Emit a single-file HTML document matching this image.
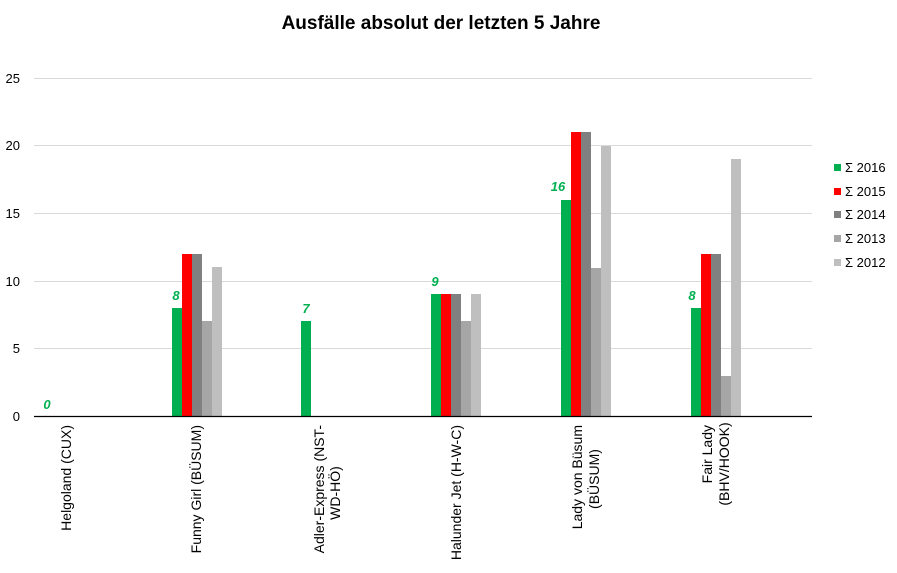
<!DOCTYPE html>
<html><head><meta charset="utf-8"><style>
body{margin:0;background:#fff}
svg{display:block;font-family:"Liberation Sans",Arial,sans-serif}
</style></head><body>
<svg width="897" height="573" viewBox="0 0 897 573">
<text x="441" y="29" font-size="19" font-weight="bold" text-anchor="middle" fill="#000">Ausfälle absolut der letzten 5 Jahre</text>
<g stroke="#d9d9d9" stroke-width="1">
<line x1="34" x2="812" y1="78.5" y2="78.5"/>
<line x1="34" x2="812" y1="145.5" y2="145.5"/>
<line x1="34" x2="812" y1="213.5" y2="213.5"/>
<line x1="34" x2="812" y1="281.5" y2="281.5"/>
<line x1="34" x2="812" y1="348.5" y2="348.5"/>
</g>
<g font-size="13" fill="#000" text-anchor="end">
<text x="20" y="83">25</text><text x="20" y="150">20</text><text x="20" y="218">15</text>
<text x="20" y="286">10</text><text x="20" y="353">5</text><text x="20" y="421">0</text>
</g>
<g>
<rect x="172" y="308" width="10" height="108" fill="#00b050"/>
<rect x="182" y="254" width="10" height="162" fill="#ff0000"/>
<rect x="192" y="254" width="10" height="162" fill="#808080"/>
<rect x="202" y="321" width="10" height="95" fill="#a6a6a6"/>
<rect x="212" y="267" width="10" height="149" fill="#bfbfbf"/>
<rect x="301" y="321" width="10" height="95" fill="#00b050"/>
<rect x="431" y="294" width="10" height="122" fill="#00b050"/>
<rect x="441" y="294" width="10" height="122" fill="#ff0000"/>
<rect x="451" y="294" width="10" height="122" fill="#808080"/>
<rect x="461" y="321" width="10" height="95" fill="#a6a6a6"/>
<rect x="471" y="294" width="10" height="122" fill="#bfbfbf"/>
<rect x="561" y="200" width="10" height="216" fill="#00b050"/>
<rect x="571" y="132" width="10" height="284" fill="#ff0000"/>
<rect x="581" y="132" width="10" height="284" fill="#808080"/>
<rect x="591" y="268" width="10" height="148" fill="#a6a6a6"/>
<rect x="601" y="146" width="10" height="270" fill="#bfbfbf"/>
<rect x="691" y="308" width="10" height="108" fill="#00b050"/>
<rect x="701" y="254" width="10" height="162" fill="#ff0000"/>
<rect x="711" y="254" width="10" height="162" fill="#808080"/>
<rect x="721" y="376" width="10" height="40" fill="#a6a6a6"/>
<rect x="731" y="159" width="10" height="257" fill="#bfbfbf"/>
</g>
<line x1="34" x2="812" y1="416.5" y2="416.5" stroke="#000" stroke-width="1.3"/>
<g font-size="13" font-weight="bold" font-style="italic" fill="#00b050" text-anchor="middle">
<text x="47" y="409">0</text><text x="176" y="300">8</text><text x="306" y="313">7</text>
<text x="435" y="286">9</text><text x="558" y="191">16</text><text x="692" y="300">8</text>
</g>
<g font-size="14" fill="#000">
<text transform="translate(71,425) rotate(-90)" text-anchor="end">Helgoland (CUX)</text>
<text transform="translate(201,425) rotate(-90)" text-anchor="end">Funny Girl (BÜSUM)</text>
<text transform="translate(324,425) rotate(-90)" text-anchor="end">Adler-Express (NST-</text>
<text transform="translate(340,493) rotate(-90)" text-anchor="middle">WD-HÖ)</text>
<text transform="translate(461,425) rotate(-90)" text-anchor="end">Halunder Jet (H-W-C)</text>
<text transform="translate(582,425) rotate(-90)" text-anchor="end">Lady von Büsum</text>
<text transform="translate(599,479) rotate(-90)" text-anchor="middle">(BÜSUM)</text>
<text transform="translate(712,425) rotate(-90)" text-anchor="end">Fair Lady</text>
<text transform="translate(729,464) rotate(-90)" text-anchor="middle">(BHV/HOOK)</text>
</g>
<g font-size="13" fill="#000">
<rect x="834" y="164" width="7" height="7" fill="#00b050"/><text x="845" y="172">Σ 2016</text>
<rect x="834" y="188" width="7" height="7" fill="#ff0000"/><text x="845" y="196">Σ 2015</text>
<rect x="834" y="211" width="7" height="7" fill="#808080"/><text x="845" y="219">Σ 2014</text>
<rect x="834" y="235" width="7" height="7" fill="#a6a6a6"/><text x="845" y="243">Σ 2013</text>
<rect x="834" y="259" width="7" height="7" fill="#bfbfbf"/><text x="845" y="267">Σ 2012</text>
</g>
</svg>
</body></html>
